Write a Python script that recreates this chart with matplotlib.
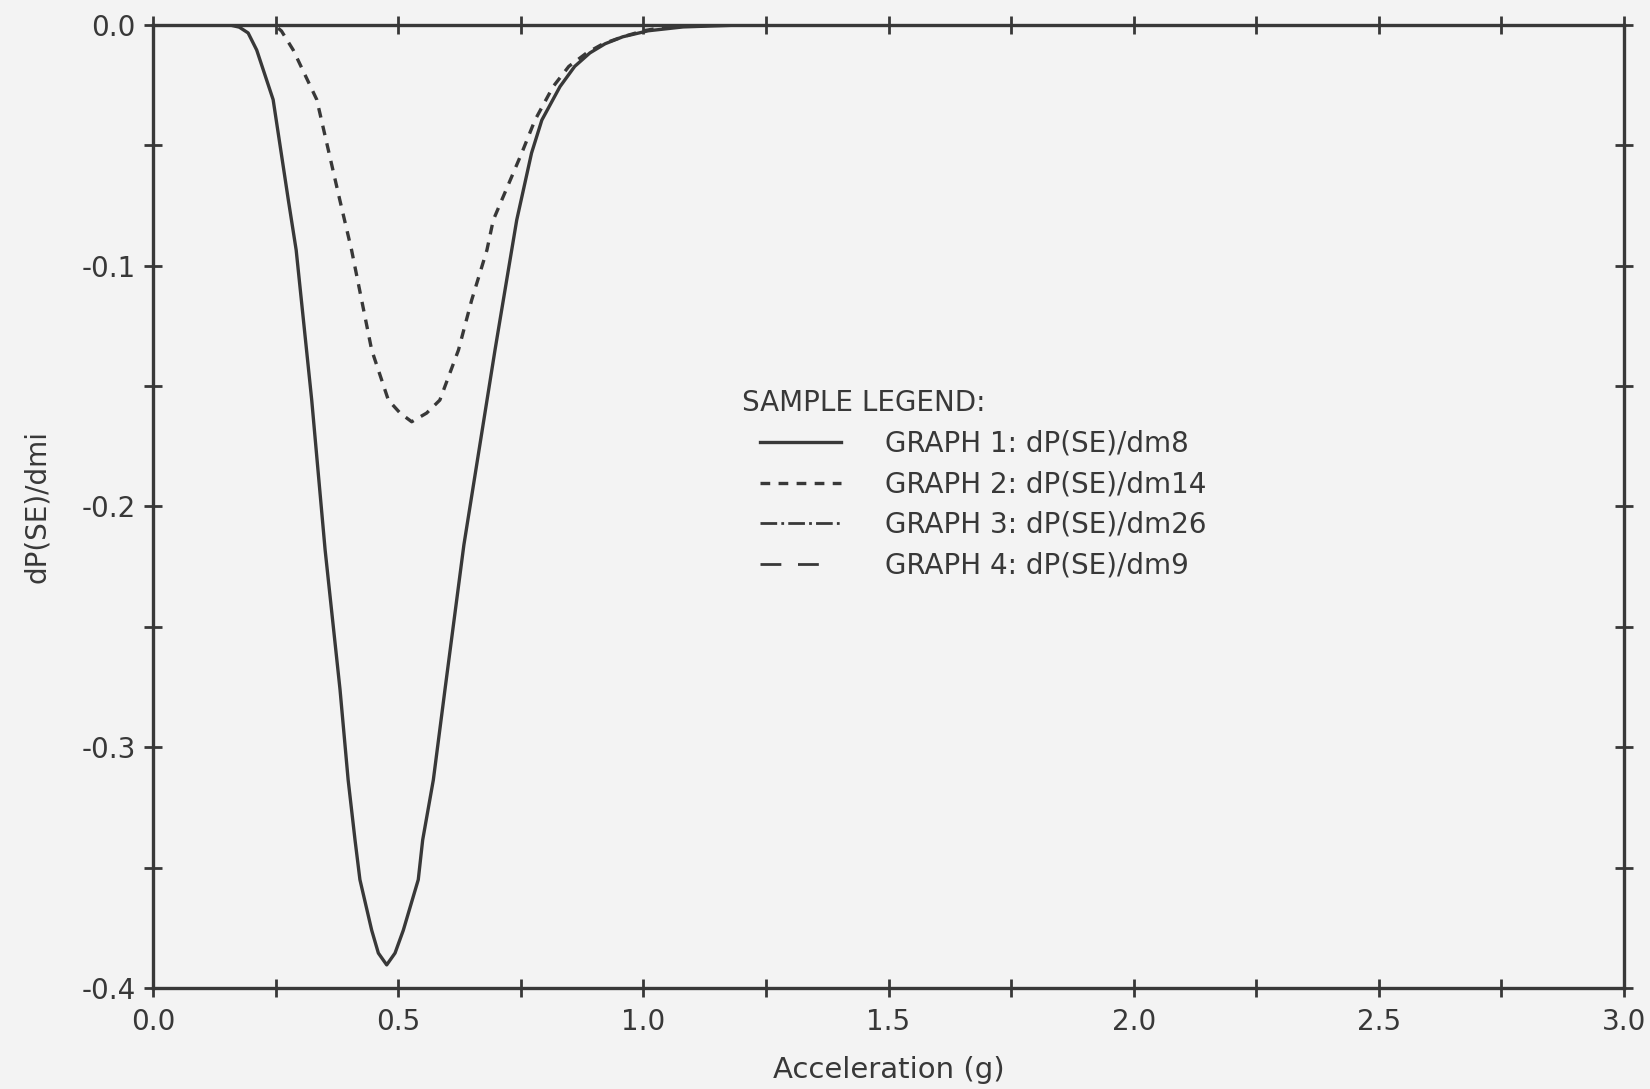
import matplotlib
matplotlib.use("Agg")
import matplotlib.pyplot as plt
from matplotlib.lines import Line2D
from matplotlib.ticker import MultipleLocator, FormatStrFormatter

# verdier
akselerasjon_1 = [0.0, 0.157, 0.176, 0.194, 0.2115, 0.245, 0.276, 0.292, 0.3237, 0.351, 0.3814,
                  0.398, 0.412, 0.422, 0.446, 0.4596, 0.4766, 0.4936, 0.5105, 0.541, 0.550,
                  0.5717, 0.5955, 0.634, 0.6975, 0.7077, 0.7418, 0.772, 0.793, 0.830, 0.860,
                  0.891, 0.922, 0.958, 1.010, 1.081, 1.2, 3.0]
dp_dm8 = [0.0, 0.0, -0.0009, -0.0033, -0.0104, -0.031, -0.0727, -0.0935, -0.1558, -0.218, -0.276,
          -0.3136, -0.3385, -0.355, -0.376, -0.3855, -0.3904, -0.3855, -0.376, -0.355, -0.3385,
          -0.3136, -0.276, -0.216, -0.135, -0.1225, -0.081, -0.0532, -0.0395, -0.0256, -0.0172,
          -0.0116, -0.0078, -0.0049, -0.0024, -0.0008, 0.0, 0.0]

akselerasjon_2 = [0.0, 0.248, 0.262, 0.286, 0.334, 0.381, 0.405, 0.446, 0.480, 0.504, 0.5276,
                  0.558, 0.585, 0.623, 0.650, 0.681, 0.694, 0.752, 0.779, 0.816, 0.848,
                  0.8845, 0.918, 0.958, 1.000, 1.046, 1.15, 3.0]
dp_dm14 = [0.0, 0.0, -0.0025, -0.0104, -0.031, -0.0727, -0.0935, -0.135, -0.1558, -0.1612, -0.1648,
           -0.1612, -0.1558, -0.135, -0.1142, -0.0935, -0.081, -0.0532, -0.0395, -0.0256, -0.0172,
           -0.0116, -0.0078, -0.0049, -0.0024, -0.0008, 0.0, 0.0]

etiketter = ["GRAPH 1: dP(SE)/dm8", "GRAPH 2: dP(SE)/dm14",
             "GRAPH 3: dP(SE)/dm26", "GRAPH 4: dP(SE)/dm9"]

bakgrunn = "#f3f3f3"
farge = "#383838"
plt.rcParams["axes.unicode_minus"] = False
plt.rcParams["lines.scale_dashes"] = False

fig = plt.figure(figsize=(16.5, 10.89), dpi=100, facecolor=bakgrunn)
ax = fig.add_axes([153 / 1650, 1 - 988 / 1089, (1624 - 153) / 1650, (988 - 25) / 1089])
ax.set_facecolor(bakgrunn)

l1, = ax.plot(akselerasjon_1, dp_dm8, color=farge, lw=2.4)
l2, = ax.plot(akselerasjon_2, dp_dm14, color=farge, lw=2.4, dashes=(7, 6))
l3 = Line2D([], [], color=farge, lw=2.0, dashes=(12, 3, 2, 3))
l4 = Line2D([], [], color=farge, lw=2.0, dashes=(15, 12, 15, 40))

ax.set_xlim(0, 3)
ax.set_ylim(-0.4, 0)
ax.xaxis.set_major_locator(MultipleLocator(0.5))
ax.xaxis.set_minor_locator(MultipleLocator(0.25))
ax.yaxis.set_major_locator(MultipleLocator(0.1))
ax.yaxis.set_minor_locator(MultipleLocator(0.05))
ax.xaxis.set_major_formatter(FormatStrFormatter("%.1f"))
ax.yaxis.set_major_formatter(FormatStrFormatter("%.1f"))

for s in ax.spines.values():
    s.set_color(farge)
    s.set_linewidth(2.4)
ax.tick_params(which="both", direction="inout", length=13, width=2.0, color=farge,
               top=True, right=True, labelsize=20, labelcolor=farge)
ax.tick_params(axis="x", pad=8)
ax.tick_params(axis="y", pad=6)

ax.set_xlabel("Acceleration (g)", fontsize=21, color=farge, labelpad=14)
ax.set_ylabel("dP(SE)/dmi", fontsize=20, color=farge, labelpad=22)

# tittelen settes som egen tekst slik at linjeprøvene kan rykkes inn
fig.text(742 / 1650, 1 - 403 / 1089, "SAMPLE LEGEND:", fontsize=20, color=farge,
         ha="left", va="center")
leg = ax.legend([l1, l2, l3, l4], etiketter,
                loc="upper left", bbox_to_anchor=(760 / 1650, 1 - 430 / 1089),
                bbox_transform=fig.transFigure, frameon=False, fontsize=20,
                handlelength=2.9, handletextpad=1.6, labelspacing=0.45,
                borderpad=0, borderaxespad=0)
for t in leg.get_texts():
    t.set_color(farge)

fig.savefig("out.png", dpi=100, facecolor=bakgrunn)
